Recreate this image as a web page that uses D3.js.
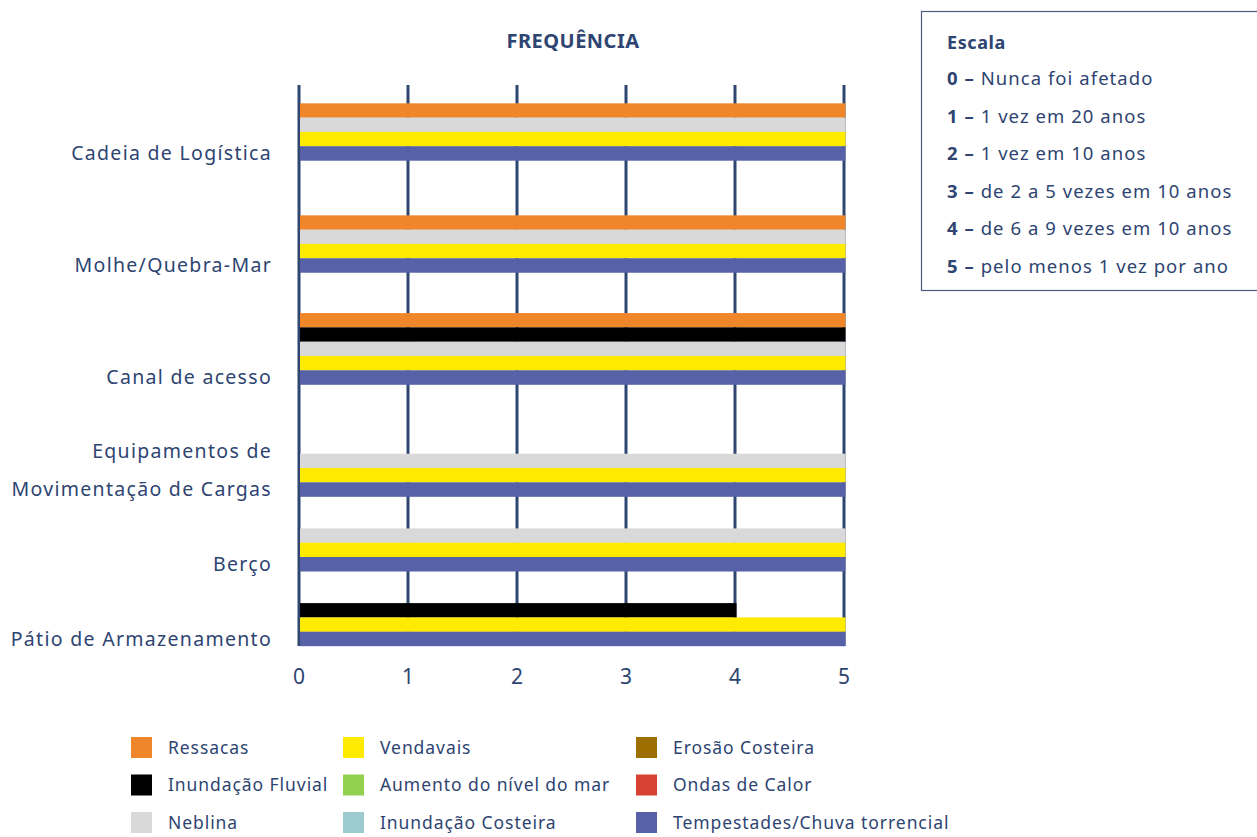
<!DOCTYPE html>
<html lang="pt">
<head>
<meta charset="utf-8">
<script src="https://cdn.jsdelivr.net/npm/d3@7"></script>
<style>
  html, body { margin: 0; padding: 0; background: #fff; }
  svg { display: block; }
  text { font-family: "Noto Sans", "DejaVu Sans", sans-serif; fill: #2e4471; }
</style>
</head>
<body>
<svg id="chart" width="1257" height="837"></svg>
<script>
// Categories, top to bottom
const categories = [
  ["Cadeia de Logística"],
  ["Molhe/Quebra-Mar"],
  ["Canal de acesso"],
  ["Equipamentos de", "Movimentação de Cargas"],
  ["Berço"],
  ["Pátio de Armazenamento"]
];

// Hazard series (legend order, column by column)
const seriesNames = [
  "Ressacas", "Inundação Fluvial", "Neblina",
  "Vendavais", "Aumento do nível do mar", "Inundação Costeira",
  "Erosão Costeira", "Ondas de Calor", "Tempestades/Chuva torrencial"
];
const seriesColors = [
  "#f0862a", "#000000", "#d9d9d9",
  "#ffeb00", "#92d050", "#9bcbcf",
  "#9c6f00", "#d84232", "#5661a8"
];

// Frequency (0–5) per category, one array per series
const ressacas          = [5, 5, 5, 0, 0, 0];
const inundacaoFluvial  = [0, 0, 5, 0, 0, 4];
const neblina           = [5, 5, 5, 5, 5, 0];
const vendavais         = [5, 5, 5, 5, 5, 5];
const aumentoNivelMar   = [0, 0, 0, 0, 0, 0];
const inundacaoCosteira = [0, 0, 0, 0, 0, 0];
const erosaoCosteira    = [0, 0, 0, 0, 0, 0];
const ondasCalor        = [0, 0, 0, 0, 0, 0];
const tempestades       = [5, 5, 5, 5, 5, 5];

const seriesValues = [
  ressacas, inundacaoFluvial, neblina,
  vendavais, aumentoNivelMar, inundacaoCosteira,
  erosaoCosteira, ondasCalor, tempestades
];

// Axis ticks
const xTicks = [0, 1, 2, 3, 4, 5];

// Scale description box
const scaleTitle = "Escala";
const scaleKeys = ["0", "1", "2", "3", "4", "5"];
const scaleTexts = [
  "Nunca foi afetado",
  "1 vez em 20 anos",
  "1 vez em 10 anos",
  "de 2 a 5 vezes em 10 anos",
  "de 6 a 9 vezes em 10 anos",
  "pelo menos 1 vez por ano"
];

// ---- layout ----
const svg = d3.select("#chart");

// spacing units between consecutive category groups
const groupSpacing = [3, 3, 3, 2, 2];
const anchorUnits = [0];
groupSpacing.forEach(s => anchorUnits.push(anchorUnits[anchorUnits.length - 1] + s));

const x = d3.scaleLinear().domain([0, 5]).range([299, 844]);
const yAnchor = d3.scaleLinear()
  .domain([0, anchorUnits[anchorUnits.length - 1]])
  .range([160.5, 646]);
const barH = 14.3;

const gridTop = 85, gridBottom = 646;

// gridlines
svg.append("g")
  .selectAll("line")
  .data(xTicks)
  .join("line")
  .attr("x1", d => x(d)).attr("x2", d => x(d))
  .attr("y1", gridTop).attr("y2", gridBottom)
  .attr("stroke", "#2f4670")
  .attr("stroke-width", 3);

// bars: for each category only the non-zero series are drawn, stacked
// contiguously with the last one sitting on the category anchor
const barData = [];
categories.forEach((cat, ci) => {
  const present = seriesValues
    .map((vals, si) => ({ si, v: vals[ci] }))
    .filter(d => d.v > 0);
  present.forEach((d, k) => {
    barData.push({
      ci, si: d.si, v: d.v,
      y: yAnchor(anchorUnits[ci]) - (present.length - k) * barH
    });
  });
});

svg.append("g")
  .selectAll("rect")
  .data(barData)
  .join("rect")
  .attr("x", x(0) + 1)
  .attr("y", d => d.y)
  .attr("width", d => x(d.v) - x(0) + 0.5)
  .attr("height", barH + 0.2)
  .attr("fill", d => seriesColors[d.si]);

// x tick labels
svg.append("g")
  .selectAll("text")
  .data(xTicks)
  .join("text")
  .attr("x", d => x(d))
  .attr("y", 676)
  .attr("dy", "0.36em")
  .attr("text-anchor", "middle")
  .attr("font-size", 21)
  .text(d => d);

// category labels, last line centred on the last bar of the group
const catG = svg.append("g");
categories.forEach((lines, ci) => {
  const yLast = yAnchor(anchorUnits[ci]) - barH / 2;
  lines.forEach((ln, li) => {
    catG.append("text")
      .attr("x", 272)
      .attr("y", yLast - (lines.length - 1 - li) * 38)
      .attr("dy", "0.35em")
      .attr("text-anchor", "end")
      .attr("font-size", 19.5)
      .attr("letter-spacing", 1.3)
      .text(ln);
  });
});

// title
svg.append("text")
  .attr("x", 573)
  .attr("y", 41)
  .attr("dy", "0.35em")
  .attr("text-anchor", "middle")
  .attr("font-size", 20)
  .attr("font-weight", "bold")
  .attr("letter-spacing", 0.5)
  .text("FREQUÊNCIA");

// scale box
const box = svg.append("g");
box.append("rect")
  .attr("x", 921.5).attr("y", 11.5)
  .attr("width", 340).attr("height", 279)
  .attr("fill", "none")
  .attr("stroke", "#4b5d80")
  .attr("stroke-width", 1.2);
box.append("text")
  .attr("x", 947).attr("y", 43)
  .attr("dy", "0.35em")
  .attr("font-size", 18)
  .attr("font-weight", "bold")
  .attr("letter-spacing", 0.6)
  .text(scaleTitle);
scaleKeys.forEach((k, i) => {
  const t = box.append("text")
    .attr("x", 947)
    .attr("y", 78.5 + i * 37.6)
    .attr("dy", "0.35em")
    .attr("font-size", 18.5)
    .attr("letter-spacing", 1.05);
  t.append("tspan").attr("font-weight", "bold").text(k + " – ");
  t.append("tspan").text(scaleTexts[i]);
});

// series legend, three columns
const legCols = [131, 343, 636];
const legRows = [747.5, 785, 822.5];
const leg = svg.append("g");
seriesNames.forEach((name, i) => {
  const col = Math.floor(i / 3), row = i % 3;
  const g = leg.append("g")
    .attr("transform", `translate(${legCols[col]},${legRows[row]})`);
  g.append("rect")
    .attr("x", 0).attr("y", -10.5)
    .attr("width", 21).attr("height", 21)
    .attr("fill", seriesColors[i]);
  g.append("text")
    .attr("x", 37)
    .attr("y", 0)
    .attr("dy", "0.35em")
    .attr("font-size", 17.5)
    .attr("letter-spacing", 0.93)
    .text(name);
});
</script>
</body>
</html>
